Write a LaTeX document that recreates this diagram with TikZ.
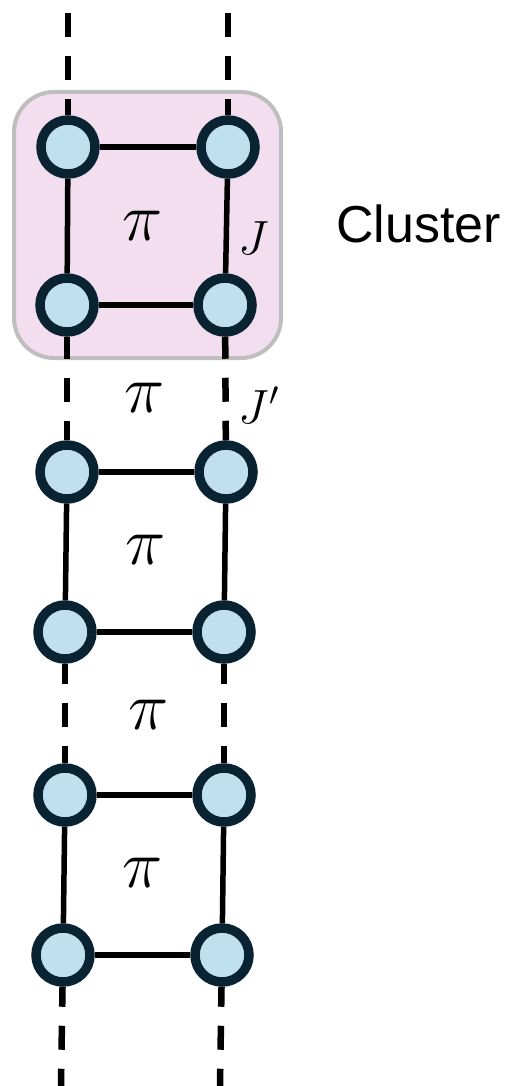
\RequirePackage{fix-cm}
\documentclass[tikz,border=0pt]{standalone}
\usepackage{fontspec}
\newfontfamily\labelfont{Liberation Sans}
\definecolor{nodefill}{RGB}{192,224,240}
\definecolor{noderim}{RGB}{10,35,51}
\definecolor{clusterfill}{RGB}{242,222,238}
\definecolor{clusterrim}{RGB}{190,190,190}
\begin{document}
\begin{tikzpicture}[x=1pt,y=-1pt,
  site/.style={circle,draw=noderim,fill=nodefill,line width=9.5pt,minimum size=54pt,inner sep=0pt},
  bond/.style={line width=5.5pt,black},
  weak/.style={line width=6.5pt,black,dash pattern=on 24pt off 19pt,dash phase=4pt},
  pilabel/.style={inner sep=0pt,font=\fontsize{68}{74}\selectfont},
  jlabel/.style={inner sep=0pt,font=\fontsize{48}{54}\selectfont},
  clusterbox/.style={draw=clusterrim,fill=clusterfill,line width=4pt,rounded corners=40pt}
]
\useasboundingbox (0,0) rectangle (506,1086);
% cluster background
\draw[clusterbox] (14,92) rectangle (281,358);
% end coordinates
\coordinate (tl) at (68,13);
\coordinate (tr) at (228,13);
\coordinate (bl) at (61,1086);
\coordinate (br) at (220,1086);
% sites
\node[site] (a1) at (68,147) {};
\node[site] (b1) at (228,147) {};
\node[site] (c1) at (67,305) {};
\node[site] (d1) at (225,305) {};
\node[site] (a2) at (67,472) {};
\node[site] (b2) at (226,472) {};
\node[site] (c2) at (65,632) {};
\node[site] (d2) at (224,632) {};
\node[site] (a3) at (65,795) {};
\node[site] (b3) at (224,795) {};
\node[site] (c3) at (63,955) {};
\node[site] (d3) at (222,955) {};
% bonds inside plaquettes
\foreach \i in {1,2,3}{
  \draw[bond] (a\i) -- (b\i);
  \draw[bond] (c\i) -- (d\i);
  \draw[bond] (a\i) -- (c\i);
  \draw[bond] (b\i) -- (d\i);
}
% dashed links
\draw[weak,dash phase=0pt] (tl) -- (a1);
\draw[weak,dash phase=0pt] (tr) -- (b1);
\draw[weak,dash phase=2pt] (c1) -- (a2);
\draw[weak,dash phase=2pt] (d1) -- (b2);
\draw[weak] (c2) -- (a3);
\draw[weak] (d2) -- (b3);
\draw[weak] (c3) -- (bl);
\draw[weak] (d3) -- (br);
% labels
\node[pilabel] (p1) at (143,226) {$\pi$};
\node[pilabel] (p12) at (145,398) {$\pi$};
\node[pilabel] (p2) at (146,550) {$\pi$};
\node[pilabel] (p23) at (149,715) {$\pi$};
\node[pilabel] (p3) at (143,873) {$\pi$};
\node[jlabel] (j) at (254,238) {$J$};
\node[jlabel] (jp) at (259,405) {$J'$};
\node[anchor=base west,inner sep=0pt,font=\labelfont\fontsize{52}{60}\selectfont] (cl) at (336,242) {Cluster};
\end{tikzpicture}
\end{document}
